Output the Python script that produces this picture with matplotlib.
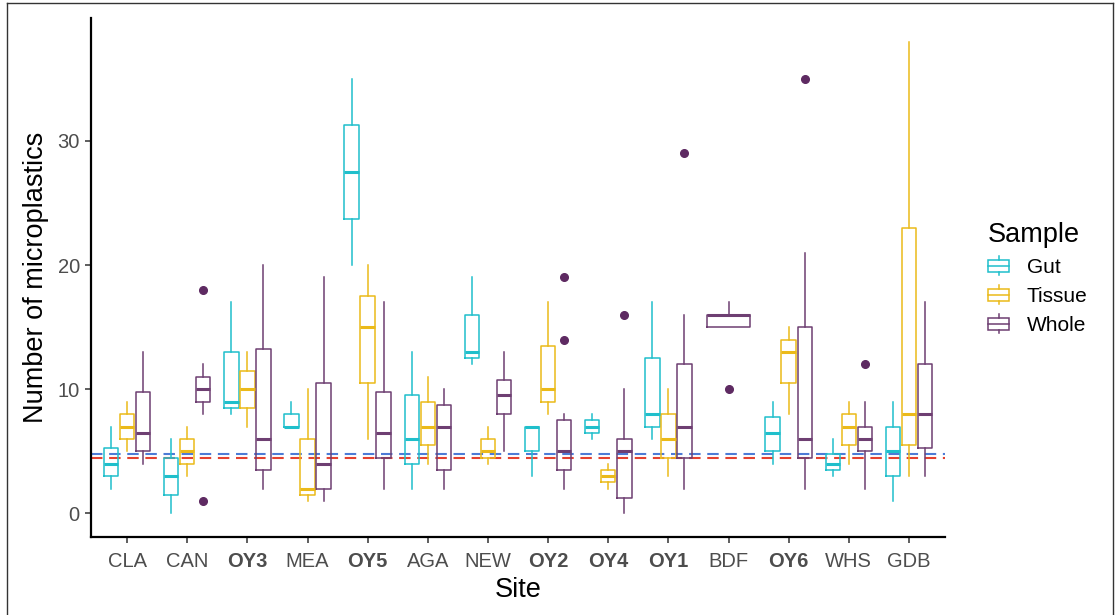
import numpy as np
import matplotlib.pyplot as plt
from matplotlib.legend_handler import HandlerBase
from matplotlib.patches import Rectangle
from matplotlib.lines import Line2D

plt.rcParams['font.family'] = ['Liberation Sans', 'DejaVu Sans']

sites = ["CLA", "CAN", "OY3", "MEA", "OY5", "AGA", "NEW",
         "OY2", "OY4", "OY1", "BDF", "OY6", "WHS", "GDB"]
bold_sites = ["OY3", "OY5", "OY2", "OY4", "OY1", "OY6"]
samples = ["Gut", "Tissue", "Whole"]

# box stats per site: (whisker low, q1, median, q3, whisker high), None = no data
gut = [(2, 3, 4, 5.25, 7), (0, 1.5, 3, 4.5, 6), (8, 8.5, 9, 13, 17), (7, 7, 7, 8, 9),
       (20, 23.75, 27.5, 31.25, 35), (2, 4, 6, 9.5, 13), (12, 12.5, 13, 16, 19),
       (3, 5, 7, 7, 7), (6, 6.5, 7, 7.5, 8), (6, 7, 8, 12.5, 17), None,
       (4, 5, 6.5, 7.75, 9), (3, 3.5, 4, 4.75, 6), (1, 3, 5, 7, 9)]
tissue = [(5, 6, 7, 8, 9), (3, 4, 5, 6, 7), (7, 8.5, 10, 11.5, 13), (1, 1.5, 2, 6, 10),
          (6, 10.5, 15, 17.5, 20), (4, 5.5, 7, 9, 11), (4, 4.5, 5, 6, 7),
          (8, 9, 10, 13.5, 17), (2, 2.5, 3, 3.5, 4), (3, 4.5, 6, 8, 10), None,
          (8, 10.5, 13, 14, 15), (4, 5.5, 7, 8, 9), (3, 5.5, 8, 23, 38)]
whole = [(4, 5, 6.5, 9.75, 13), (8, 9, 10, 11, 12), (2, 3.5, 6, 13.25, 20), (1, 2, 4, 10.5, 19),
         (2, 4.5, 6.5, 9.75, 17), (2, 3.5, 7, 8.75, 10), (5, 8, 9.5, 10.75, 13),
         (2, 3.5, 5, 7.5, 8), (0, 1.25, 5, 6, 10), (2, 4.5, 7, 12, 16), (15, 15, 16, 16, 17),
         (2, 4.5, 6, 15, 21), (2, 5, 6, 7, 9), (3, 5.25, 8, 12, 17)]
whole_out = [[], [18, 1], [], [], [], [], [], [19, 14], [16], [29], [10], [35], [12], []]
gut_out = [[] for _ in sites]
tissue_out = [[] for _ in sites]

ref_blue = 4.8
ref_red = 4.5

colors = {"Gut": "#1FBFCB", "Tissue": "#EBBA1A", "Whole": "#6E3F72"}
flier_color = "#5E2A62"


class BoxKey(HandlerBase):
    def create_artists(self, legend, orig_handle, xdescent, ydescent,
                       width, height, fontsize, trans):
        c = orig_handle.get_color()
        bw = width * 0.9
        x0 = -xdescent + (width - bw) / 2
        y0 = -ydescent + height * 0.25
        h = height * 0.5
        xm = x0 + bw / 2
        kw = dict(color=c, lw=1.1, transform=trans)
        return [Rectangle((x0, y0), bw, h, fill=False, ec=c, lw=1.1, transform=trans),
                Line2D([x0, x0 + bw], [y0 + h / 2] * 2, **kw),
                Line2D([xm, xm], [-ydescent + height * 0.08, y0], **kw),
                Line2D([xm, xm], [y0 + h, -ydescent + height * 0.92], **kw)]


fig = plt.figure(figsize=(11.15, 6.15), dpi=100)
ax = fig.add_axes([0.0816, 0.1268, 0.766, 0.844])

data = {"Gut": (gut, gut_out), "Tissue": (tissue, tissue_out), "Whole": (whole, whole_out)}
for i, site in enumerate(sites):
    present = [s for s in samples if data[s][0][i] is not None]
    n = len(present)
    slot = 0.8 / n
    for j, s in enumerate(present):
        lo, q1, med, q3, hi = data[s][0][i]
        st = [dict(whislo=lo, q1=q1, med=med, q3=q3, whishi=hi, fliers=data[s][1][i])]
        pos = i + 1 + (j - (n - 1) / 2) * slot
        c = colors[s]
        ax.bxp(st, positions=[pos], widths=slot * 0.9, showcaps=False,
               boxprops=dict(color=c, lw=1.1),
               whiskerprops=dict(color=c, lw=1.1),
               medianprops=dict(color=c, lw=2.2, solid_capstyle='butt'),
               flierprops=dict(marker='o', markersize=5.5, markerfacecolor=flier_color,
                               markeredgecolor=flier_color),
               zorder=3)

ax.axhline(ref_blue, color="#4D7BD6", lw=1.5, dashes=(5.5, 3.2), zorder=2)
ax.axhline(ref_red, color="#E5412F", lw=1.5, dashes=(5.5, 3.2), zorder=2)

ax.set_xlim(0.4, len(sites) + 0.6)
ax.set_ylim(-1.9, 39.9)
ax.set_yticks([0, 10, 20, 30])
ax.set_xticks(np.arange(1, len(sites) + 1))
ax.set_xticklabels(sites)
for lab in ax.get_xticklabels():
    if lab.get_text() in bold_sites:
        lab.set_fontweight("bold")
ax.tick_params(axis="both", labelsize=14.5, labelcolor="#4D4D4D", length=4,
               width=1.1, color="#333333")
ax.tick_params(axis="x", pad=7)
ax.tick_params(axis="y", pad=4)
for side in ["top", "right"]:
    ax.spines[side].set_visible(False)
for side in ["left", "bottom"]:
    ax.spines[side].set_linewidth(1.6)
    ax.spines[side].set_color("black")
ax.set_xlabel("Site", fontsize=19.5, labelpad=4)
ax.set_ylabel("Number of microplastics", fontsize=19.5, labelpad=6)

handles = [Line2D([], [], color=colors[s]) for s in samples]
leg = fig.legend(handles, samples, handler_map={Line2D: BoxKey()},
                 loc="upper left", bbox_to_anchor=(0.878, 0.652), frameon=False,
                 title="Sample", title_fontsize=19.5, fontsize=15,
                 handlelength=1.1, handleheight=1.3, labelspacing=0.3,
                 handletextpad=0.8, alignment="left", borderaxespad=0)

# screenshot frame
fig.add_artist(Line2D([0.0063, 0.0063], [0, 0.995], color="#333333", lw=1))
fig.add_artist(Line2D([0.0063, 0.998], [0.995, 0.995], color="#333333", lw=1))
fig.add_artist(Line2D([0.998, 0.998], [0.995, 0], color="#333333", lw=1))

fig.savefig("out.png", dpi=100)
